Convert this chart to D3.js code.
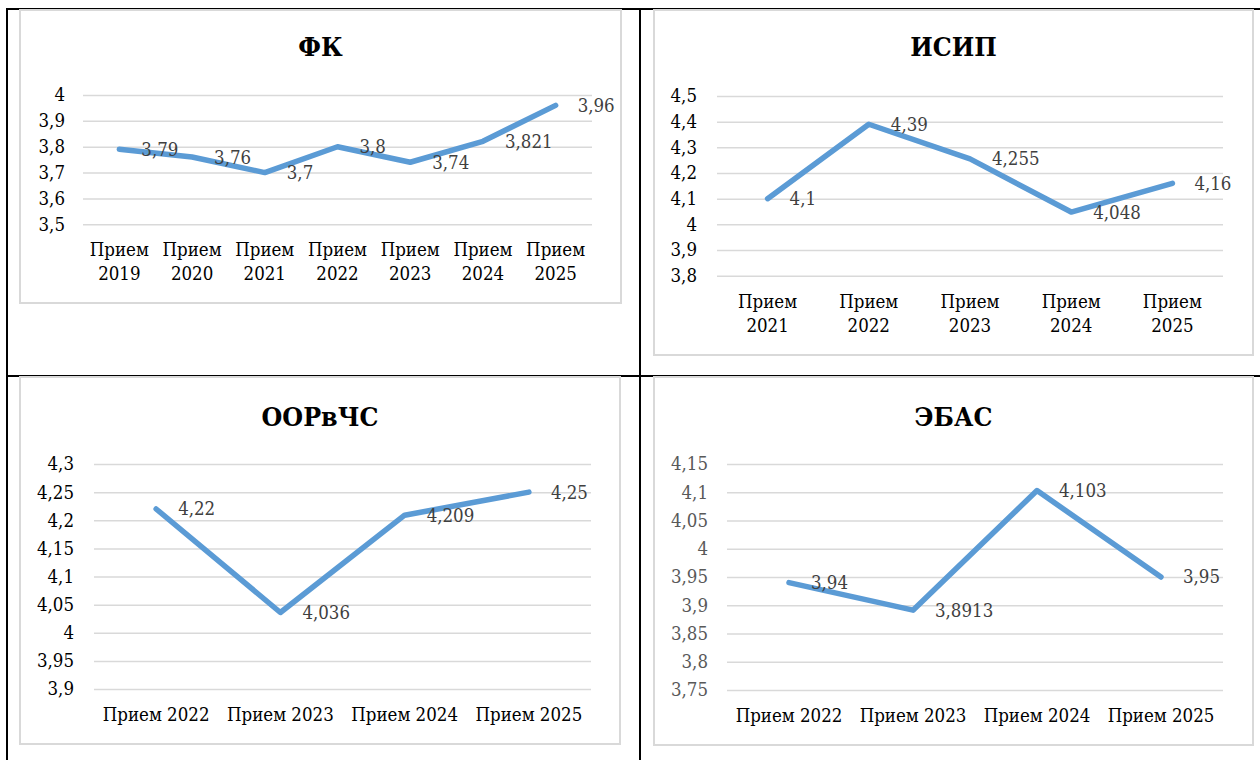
<!DOCTYPE html>
<html>
<head>
<meta charset="utf-8">
<script src="https://cdn.jsdelivr.net/npm/d3@7"></script>
<style>
  body { margin: 0; background: #fff; }
  svg text { font-stretch: condensed; }
</style>
</head>
<body>
<svg width="1260" height="760"></svg>
<script>
// данные
const fkCats = ["Прием 2019", "Прием 2020", "Прием 2021", "Прием 2022", "Прием 2023", "Прием 2024", "Прием 2025"];
const fkVals = [3.79, 3.76, 3.7, 3.8, 3.74, 3.821, 3.96];
const fkTicks = [3.5, 3.6, 3.7, 3.8, 3.9, 4];

const isipCats = ["Прием 2021", "Прием 2022", "Прием 2023", "Прием 2024", "Прием 2025"];
const isipVals = [4.1, 4.39, 4.255, 4.048, 4.16];
const isipTicks = [3.8, 3.9, 4, 4.1, 4.2, 4.3, 4.4, 4.5];

const oorCats = ["Прием 2022", "Прием 2023", "Прием 2024", "Прием 2025"];
const oorVals = [4.22, 4.036, 4.209, 4.25];
const oorTicks = [3.9, 3.95, 4, 4.05, 4.1, 4.15, 4.2, 4.25, 4.3];

const ebasCats = ["Прием 2022", "Прием 2023", "Прием 2024", "Прием 2025"];
const ebasVals = [3.94, 3.8913, 4.103, 3.95];
const ebasTicks = [3.75, 3.8, 3.85, 3.9, 3.95, 4, 4.05, 4.1, 4.15];

// Liberation Serif нет в песочнице, берём DejaVu Serif Condensed
const FONT = "DejaVu Serif Condensed, DejaVu Serif";
const FS = 18.5;
const svg = d3.select("svg").attr("font-family", FONT);
const fmt = v => String(+v.toFixed(4)).replace(".", ",");

// рамка таблицы
const table = svg.append("g").attr("stroke", "#000").attr("stroke-width", 2);
table.append("line").attr("x1", 6).attr("x2", 1260).attr("y1", 9).attr("y2", 9);
table.append("line").attr("x1", 7).attr("x2", 7).attr("y1", 8).attr("y2", 760);
table.append("line").attr("x1", 640).attr("x2", 640).attr("y1", 8).attr("y2", 760);
table.append("line").attr("x1", 6).attr("x2", 1260).attr("y1", 376).attr("y2", 376);

function drawChart(c) {
  const g = svg.append("g");
  // рамка диаграммы
  g.append("rect")
    .attr("x", c.box[0]).attr("y", c.box[1])
    .attr("width", c.box[2] - c.box[0]).attr("height", c.box[3] - c.box[1])
    .attr("fill", "#fff").attr("stroke", "#d9d9d9").attr("stroke-width", 2);

  g.append("text")
    .attr("x", (c.box[0] + c.box[2]) / 2).attr("y", c.titleY)
    .attr("text-anchor", "middle").attr("font-family", FONT)
    .attr("font-size", 26.5).attr("font-weight", "bold").attr("fill", "#000")
    .text(c.title);

  const x = d3.scaleBand().domain(c.cats).range([c.left, c.right]);
  const y = d3.scaleLinear().domain(d3.extent(c.ticks)).range([c.bottom, c.top]);

  // ось Y + сетка
  const ax = g.append("g")
    .attr("transform", `translate(${c.left},0)`)
    .call(d3.axisLeft(y).tickValues(c.ticks).tickFormat(fmt)
      .tickSize(-(c.right - c.left)).tickPadding(c.pad));
  ax.attr("font-family", FONT);
  ax.select(".domain").remove();
  ax.selectAll(".tick line").attr("stroke", "#d9d9d9").attr("stroke-width", 1.5);
  ax.selectAll(".tick text")
    .attr("font-family", FONT).attr("font-size", FS)
    .attr("fill", c.tickColor);

  // подписи по X
  const xl = g.selectAll(".xlab").data(c.cats).enter().append("text")
    .attr("class", "xlab").attr("font-family", FONT)
    .attr("x", d => x(d) + x.bandwidth() / 2)
    .attr("y", c.bottom + 32)
    .attr("text-anchor", "middle").attr("font-size", FS).attr("fill", "#000");
  if (c.wrap) {
    xl.each(function(d) {
      const parts = d.split(" ");
      const t = d3.select(this);
      parts.forEach((p, i) => {
        t.append("tspan").attr("x", x(d) + x.bandwidth() / 2).attr("dy", i ? 24 : 0).text(p);
      });
    });
  } else {
    xl.text(d => d);
  }

  const pts = c.cats.map((d, i) => [x(d) + x.bandwidth() / 2, y(c.vals[i])]);
  g.append("path")
    .attr("d", d3.line()(pts))
    .attr("fill", "none").attr("stroke", "#5b9bd5").attr("stroke-width", 5.5)
    .attr("stroke-linecap", "round").attr("stroke-linejoin", "round");

  g.selectAll(".dlab").data(c.vals).enter().append("text")
    .attr("class", "dlab").attr("font-family", FONT)
    .attr("x", (d, i) => pts[i][0] + 22)
    .attr("y", (d, i) => pts[i][1])
    .attr("dy", "0.35em")
    .attr("font-size", FS).attr("fill", "#404040")
    .text(fmt);
}

drawChart({ title: "ФК", cats: fkCats, vals: fkVals, ticks: fkTicks,
  box: [20, 10, 621, 303], titleY: 56, left: 83, right: 592, top: 95, bottom: 224.3,
  pad: 18, wrap: true, tickColor: "#000" });
drawChart({ title: "ИСИП", cats: isipCats, vals: isipVals, ticks: isipTicks,
  box: [654, 10, 1253, 355], titleY: 56, left: 717, right: 1223, top: 96, bottom: 275.7,
  pad: 20, wrap: true, tickColor: "#000" });
drawChart({ title: "ООРвЧС", cats: oorCats, vals: oorVals, ticks: oorTicks,
  box: [20, 377, 620, 744], titleY: 426, left: 94, right: 591, top: 464, bottom: 689,
  pad: 20, wrap: false, tickColor: "#000" });
drawChart({ title: "ЭБАС", cats: ebasCats, vals: ebasVals, ticks: ebasTicks,
  box: [654, 377, 1253, 745], titleY: 426, left: 727, right: 1223, top: 464, bottom: 690,
  pad: 19, wrap: false, tickColor: "#595959" });
</script>
</body>
</html>
